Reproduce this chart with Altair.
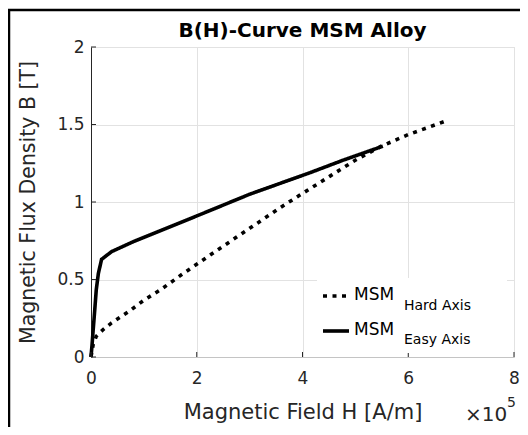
import altair as alt
import pandas as pd

# ---- data ----
hard_H = [0, 0.04, 0.10, 0.23, 0.39, 0.70, 1.00, 1.32, 1.75, 2.38, 3.00, 3.59, 3.93, 4.52, 4.99, 5.49, 6.00, 6.69]
hard_B = [0, 0.08, 0.134, 0.177, 0.22, 0.29, 0.366, 0.435, 0.54, 0.687, 0.83, 0.966, 1.04, 1.167, 1.268, 1.36, 1.435, 1.52]
easy_H = [0, 0.02, 0.04, 0.07, 0.10, 0.14, 0.20, 0.39, 0.82, 2.00, 3.00, 4.15, 4.77, 5.52]
easy_B = [0, 0.08, 0.17, 0.30, 0.435, 0.54, 0.63, 0.68, 0.747, 0.91, 1.05, 1.19, 1.27, 1.36]
series_names = ["MSM Hard Axis", "MSM Easy Axis"]
x_ticks = [0, 2, 4, 6, 8]
y_ticks = [0, 0.5, 1, 1.5, 2]
title_text = "B(H)-Curve MSM Alloy"
x_title = "Magnetic Field H [A/m]"
y_title = "Magnetic Flux Density B [T]"

df = pd.DataFrame({
    "H": hard_H + easy_H,
    "B": hard_B + easy_B,
    "series": [series_names[0]] * len(hard_H) + [series_names[1]] * len(easy_H),
    "idx": list(range(len(hard_H))) + list(range(len(easy_H))),
})

W, HH = 423, 310
FONT = "DejaVu Sans"
DARK = "#262626"

xs = alt.Scale(domain=[0, 8], nice=False, zero=False)
ys = alt.Scale(domain=[0, 2], nice=False, zero=False)
xaxis = alt.Axis(values=x_ticks, format="d", title=x_title, grid=True, gridColor="#e2e2e2",
                 domainColor="#c4c4c4", ticks=False, labelFont=FONT, labelFontSize=17,
                 labelColor=DARK, labelPadding=13, titleFont=FONT, titleFontSize=21,
                 titleFontWeight="normal", titleColor=DARK, titlePadding=15, labelFlush=False)
yaxis = alt.Axis(values=y_ticks, format="~g", title=y_title, grid=True, gridColor="#e2e2e2",
                 domainColor=DARK, ticks=False, labelFont=FONT, labelFontSize=17,
                 labelColor=DARK, labelPadding=7, titleFont=FONT, titleFontSize=20.5,
                 titleFontWeight="normal", titleColor=DARK, titlePadding=18, labelFlush=False)


def X(f):
    return alt.X(f, type="quantitative", scale=xs, axis=xaxis)


def Y(f):
    return alt.Y(f, type="quantitative", scale=ys, axis=yaxis)


lines = alt.Chart(df).mark_line(color="black", strokeWidth=3.6, strokeCap="butt").encode(
    x=X("H"), y=Y("B"),
    strokeDash=alt.StrokeDash("series:N", scale=alt.Scale(domain=series_names, range=[[4, 5.5], [1, 0]]), legend=None),
    detail="series:N",
    order="idx:Q",
)

# inward tick marks
xt = alt.Chart(pd.DataFrame({"H": x_ticks})).mark_rule(color=DARK, strokeWidth=1).encode(
    x=X("H"), y=alt.value(HH), y2=alt.value(HH - 5))
yt = alt.Chart(pd.DataFrame({"B": y_ticks})).mark_rule(color=DARK, strokeWidth=1).encode(
    y=Y("B"), x=alt.value(0), x2=alt.value(5))

# custom legend
leg_bg = alt.Chart(pd.DataFrame({"a": [0]})).mark_rect(color="white").encode(
    x=alt.value(226), x2=alt.value(416), y=alt.value(231), y2=alt.value(306))
leg_dot = alt.Chart(pd.DataFrame({"a": [0]})).mark_rule(color="black", strokeWidth=3.6, strokeDash=[4, 5.5], strokeCap="butt").encode(
    x=alt.value(232), x2=alt.value(258), y=alt.value(249))
leg_solid = alt.Chart(pd.DataFrame({"a": [0]})).mark_rule(color="black", strokeWidth=3.6).encode(
    x=alt.value(232), x2=alt.value(258), y=alt.value(284))
leg_main = alt.Chart(pd.DataFrame({"t": ["MSM", "MSM"], "yy": [253, 288]})).mark_text(
    font=FONT, fontSize=17, align="left", baseline="alphabetic", color="black").encode(
    text="t:N", x=alt.value(263), y=alt.Y("yy:Q", scale=None, axis=None))
leg_sub = alt.Chart(pd.DataFrame({"t": ["Hard Axis", "Easy Axis"], "yy": [263, 297]})).mark_text(
    font=FONT, fontSize=14, align="left", baseline="alphabetic", color="black").encode(
    text="t:N", x=alt.value(313), y=alt.Y("yy:Q", scale=None, axis=None))

# x10^5 multiplier
mult = alt.Chart(pd.DataFrame({"t": ["×10"]})).mark_text(
    font=FONT, fontSize=20, align="left", baseline="alphabetic", color=DARK).encode(
    text="t:N", x=alt.value(374), y=alt.value(374))
expo = alt.Chart(pd.DataFrame({"t": ["5"]})).mark_text(
    font=FONT, fontSize=14, align="left", baseline="alphabetic", color=DARK).encode(
    text="t:N", x=alt.value(416), y=alt.value(360))

# figure frame (left and top edges visible)
frame_l = alt.Chart(pd.DataFrame({"a": [0]})).mark_rule(color="black", strokeWidth=2.5).encode(
    x=alt.value(-82), y=alt.value(-38), y2=alt.value(400))
frame_t = alt.Chart(pd.DataFrame({"a": [0]})).mark_rule(color="black", strokeWidth=2.5).encode(
    x=alt.value(-83), x2=alt.value(440), y=alt.value(-37))

chart = alt.layer(lines, xt, yt, leg_bg, leg_dot, leg_solid, leg_main, leg_sub, mult, expo, frame_l, frame_t).properties(
    width=W, height=HH,
    title=alt.TitleParams(title_text, font=FONT, fontSize=20, fontWeight="bold", color="black",
                          anchor="middle", baseline="alphabetic", offset=4, dy=53),
    autosize=alt.AutoSizeParams(type="none"),
    padding={"left": 83, "top": 39, "right": 6, "bottom": 70},
).configure_view(stroke=None).configure(background="white")

chart.save("out.html", embed_options={"renderer": "svg", "actions": False})
